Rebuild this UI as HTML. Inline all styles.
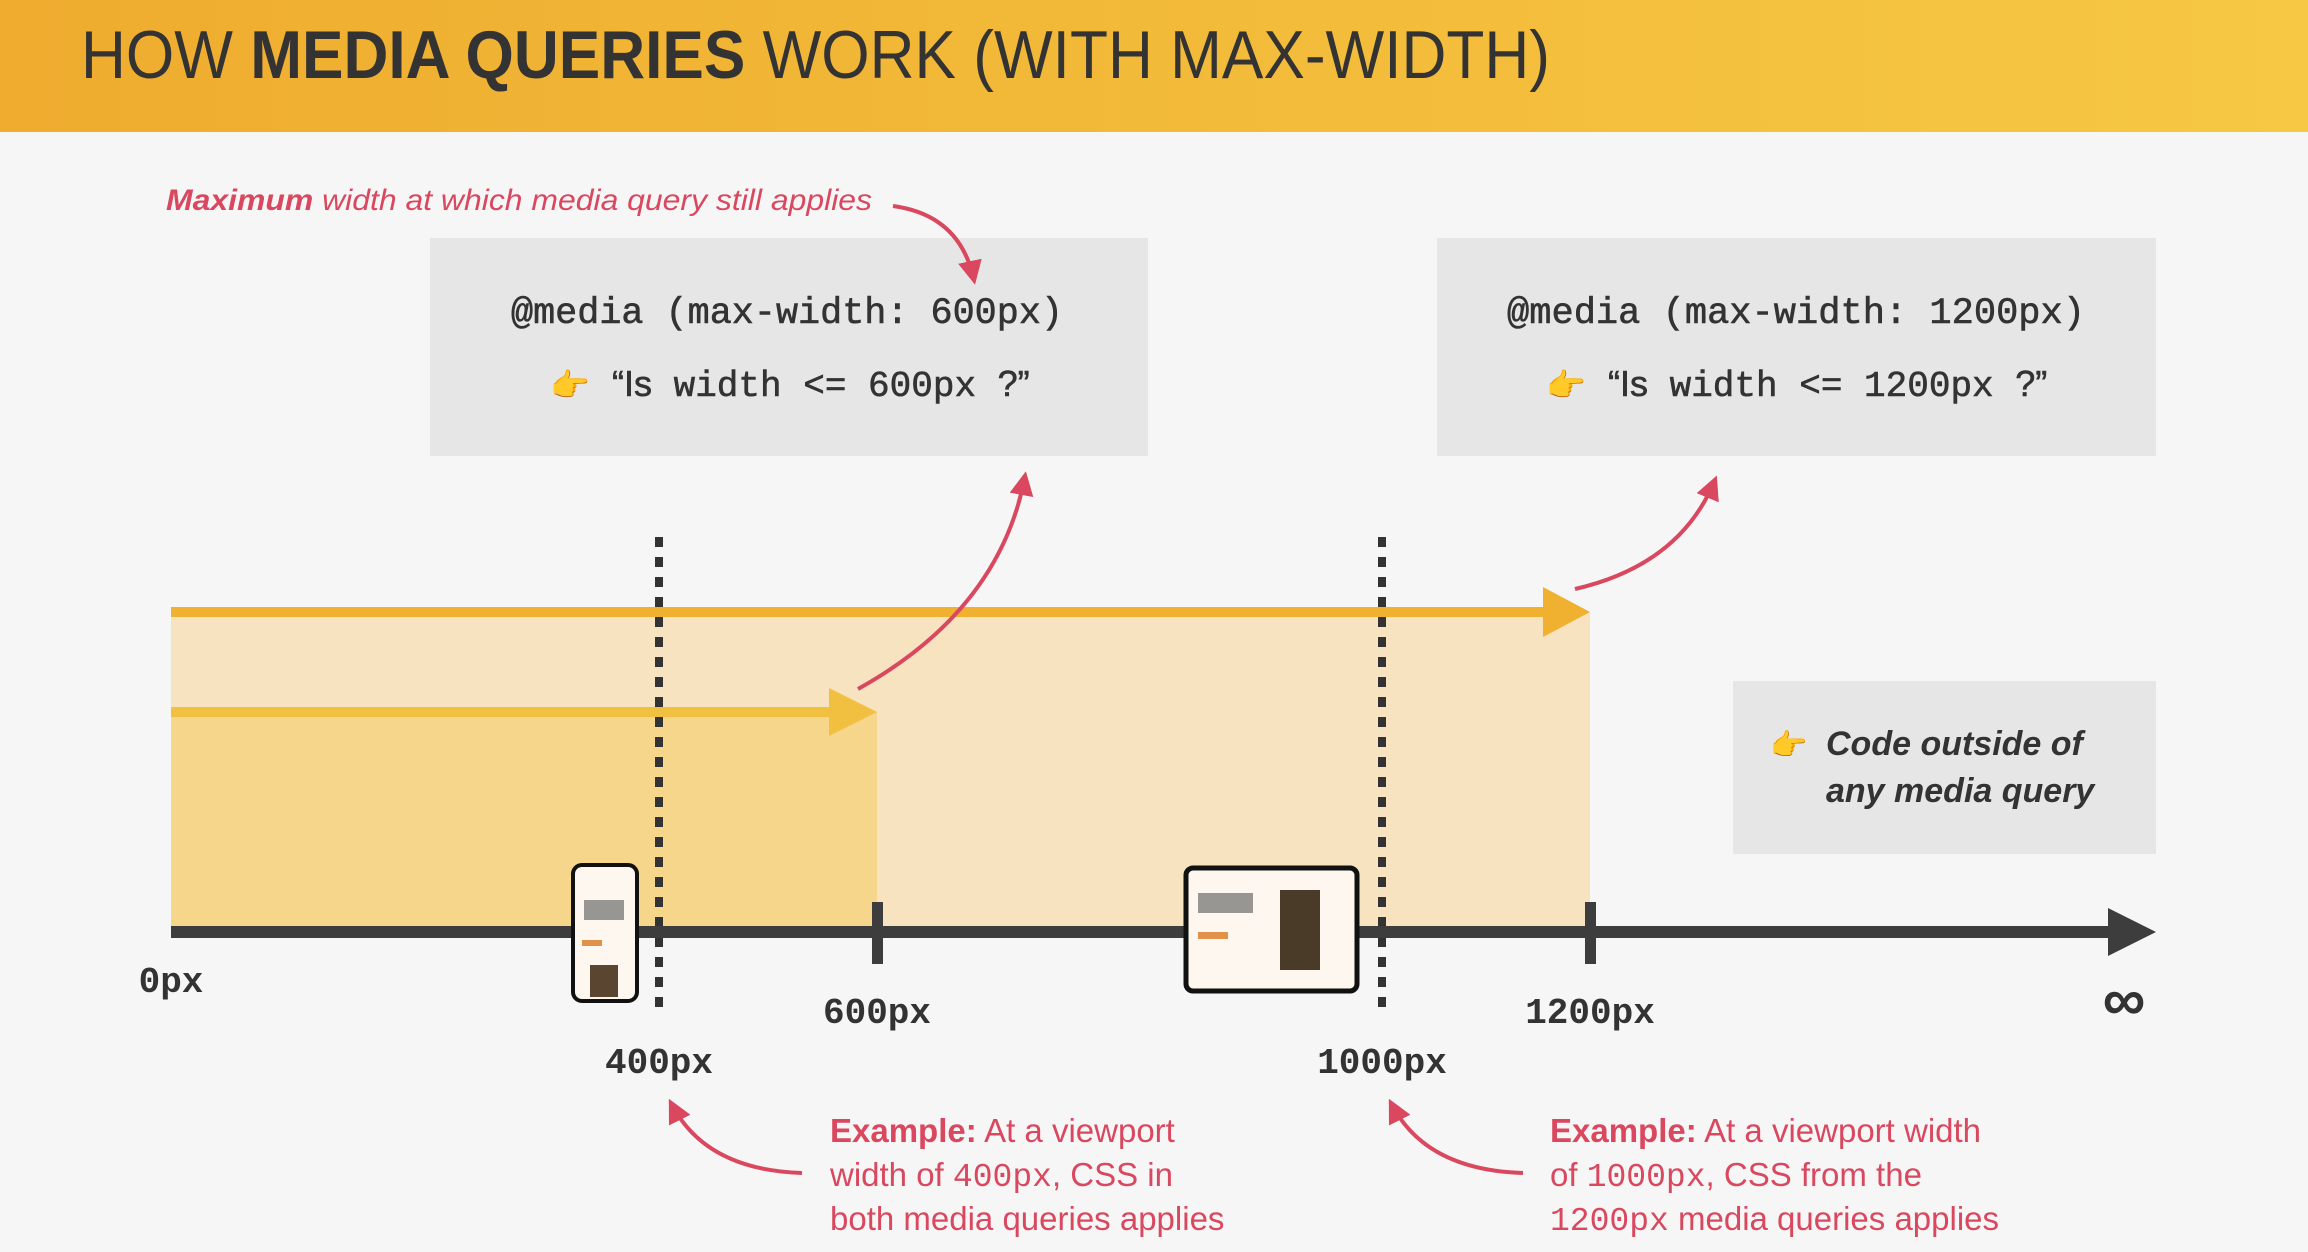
<!DOCTYPE html>
<html><head><meta charset="utf-8"><style>
html,body{margin:0;padding:0;background:#f6f6f6;}
svg{display:block}
.t{font-family:"Liberation Sans",sans-serif}
.m{font-family:"Liberation Mono",monospace}
</style></head><body>
<svg width="2308" height="1252" viewBox="0 0 2308 1252" xmlns="http://www.w3.org/2000/svg">
<defs>
<linearGradient id="hg" x1="0" x2="1" y1="0" y2="0">
<stop offset="0" stop-color="#efac2f"/><stop offset="1" stop-color="#f6c843"/>
</linearGradient>
<marker id="ah" viewBox="0 0 10 10" refX="8" refY="5" markerWidth="6" markerHeight="6" orient="auto-start-reverse">
<path d="M0,0 L10,5 L0,10 z" fill="#d9485f"/>
</marker>
</defs>
<rect width="2308" height="1252" fill="#f6f6f6"/>
<rect width="2308" height="132" fill="url(#hg)"/>
<text x="81" y="78" class="t" font-size="68" fill="#333" textLength="1469" lengthAdjust="spacingAndGlyphs">HOW <tspan font-weight="bold">MEDIA QUERIES</tspan> WORK (WITH MAX-WIDTH)</text>

<text x="166" y="210" class="t" font-size="30" font-style="italic" fill="#d9485f" textLength="706" lengthAdjust="spacingAndGlyphs"><tspan font-weight="bold">Maximum</tspan> width at which media query still applies</text>

<rect x="430" y="238" width="718" height="218" fill="#e6e6e6"/>
<rect x="1437" y="238" width="719" height="218" fill="#e6e6e6"/>
<text x="511" y="323" class="m" font-size="37" fill="#333" stroke="#333" stroke-width="0.6" textLength="552" lengthAdjust="spacingAndGlyphs">@media (max-width: 600px)</text>
<text x="1507" y="323" class="m" font-size="37" fill="#333" stroke="#333" stroke-width="0.6" textLength="578" lengthAdjust="spacingAndGlyphs">@media (max-width: 1200px)</text>
<text x="550" y="396" class="t" font-size="32" fill="#f0b030">👉</text>
<text x="612" y="396" class="m" font-size="36" fill="#333" stroke="#333" stroke-width="0.6"><tspan class="t">“Is</tspan> width &lt;= 600px <tspan class="t">?”</tspan></text>
<text x="1546" y="396" class="t" font-size="32" fill="#f0b030">👉</text>
<text x="1608" y="396" class="m" font-size="36" fill="#333" stroke="#333" stroke-width="0.6"><tspan class="t">“Is</tspan> width &lt;= 1200px <tspan class="t">?”</tspan></text>

<rect x="171" y="612" width="1419" height="320" fill="#f7e3c0"/>
<rect x="171" y="712" width="706" height="220" fill="#f5d68a"/>
<rect x="171" y="607" width="1380" height="10" fill="#f0b030"/>
<path d="M1543,587 L1590,612 L1543,637 z" fill="#f0b030"/>
<rect x="171" y="707" width="666" height="10" fill="#f2c040"/>
<path d="M829,688 L877,712 L829,736 z" fill="#f2c040"/>

<rect x="1733" y="681" width="423" height="173" fill="#e6e6e6"/>
<text x="1770" y="755" class="t" font-size="30" fill="#f0b030">👉</text>
<text x="1826" y="755" class="t" font-size="34" font-style="italic" font-weight="bold" fill="#333">Code outside of</text>
<text x="1826" y="802" class="t" font-size="34" font-style="italic" font-weight="bold" fill="#333">any media query</text>

<line x1="659" y1="537" x2="659" y2="1016" stroke="#333" stroke-width="8" stroke-dasharray="10,10"/>
<line x1="1382" y1="537" x2="1382" y2="1016" stroke="#333" stroke-width="8" stroke-dasharray="10,10"/>

<rect x="171" y="926" width="1945" height="12" fill="#3d3d3d"/>
<path d="M2108,908 L2156,932 L2108,956 z" fill="#3d3d3d"/>
<rect x="872" y="902" width="11" height="62" fill="#3d3d3d"/>
<rect x="1585" y="902" width="11" height="62" fill="#3d3d3d"/>

<rect x="573" y="865" width="64" height="136" rx="9" fill="#fdf7ef" stroke="#111" stroke-width="4"/>
<rect x="584" y="900" width="40" height="20" fill="#555" opacity="0.6"/>
<rect x="582" y="940" width="20" height="6" fill="#e0924a"/>
<rect x="590" y="965" width="28" height="32" fill="#5a4630"/>
<rect x="1186" y="868" width="171" height="123" rx="7" fill="#fdf7ef" stroke="#111" stroke-width="5"/>
<rect x="1198" y="893" width="55" height="20" fill="#555" opacity="0.6"/>
<rect x="1198" y="932" width="30" height="7" fill="#e0924a"/>
<rect x="1280" y="890" width="40" height="80" fill="#4a3a28"/>

<g class="m" font-size="36" font-weight="bold" fill="#333" text-anchor="middle">
<text x="171" y="992">0px</text>
<text x="877" y="1023">600px</text>
<text x="659" y="1073">400px</text>
<text x="1382" y="1073">1000px</text>
<text x="1590" y="1023">1200px</text>
</g>
<text x="2124" y="1020" class="t" font-size="60" font-weight="bold" fill="#333" text-anchor="middle">∞</text>

<g class="t" font-size="33" fill="#d9485f">
<text x="830" y="1142"><tspan font-weight="bold">Example:</tspan> At a viewport</text>
<text x="830" y="1186">width of <tspan class="m">400px</tspan>, CSS in</text>
<text x="830" y="1230">both media queries applies</text>
<text x="1550" y="1142"><tspan font-weight="bold">Example:</tspan> At a viewport width</text>
<text x="1550" y="1186">of <tspan class="m">1000px</tspan>, CSS from the</text>
<text x="1550" y="1230"><tspan class="m">1200px</tspan> media queries applies</text>
</g>

<g fill="none" stroke="#d9485f" stroke-width="4">
<path d="M893,206 Q960,215 974,280" marker-end="url(#ah)"/>
<path d="M858,689 Q1000,610 1025,476" marker-end="url(#ah)"/>
<path d="M1575,589 Q1680,565 1715,480" marker-end="url(#ah)"/>
<path d="M802,1173 Q705,1170 671,1103" marker-end="url(#ah)"/>
<path d="M1523,1173 Q1425,1170 1391,1103" marker-end="url(#ah)"/>
</g>
</svg>
</body></html>
